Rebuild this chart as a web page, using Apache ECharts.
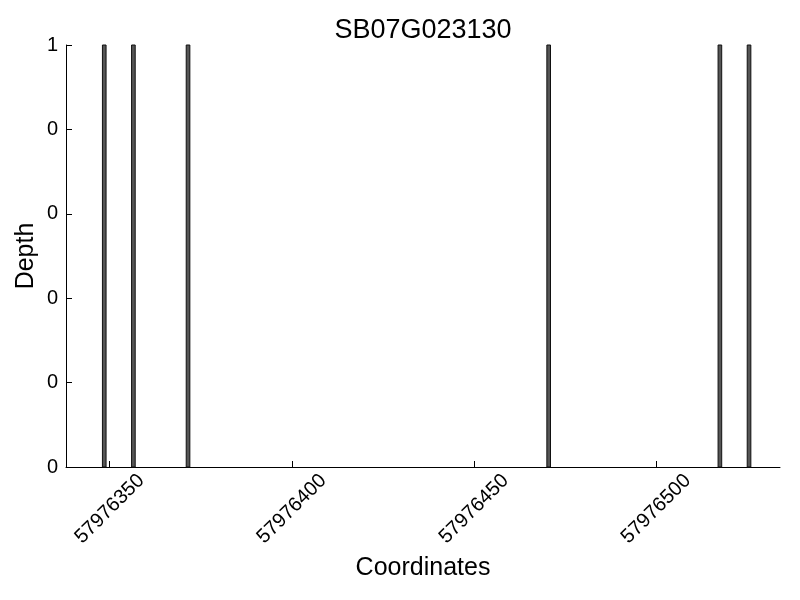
<!DOCTYPE html>
<html>
<head>
<meta charset="utf-8">
<script src="https://cdn.jsdelivr.net/npm/echarts@6/dist/echarts.min.js"></script>
<style>html,body{margin:0;padding:0;background:#fff}#c{width:800px;height:600px}</style>
</head>
<body>
<div id="c"></div>
<script>
const titleText = 'SB07G023130';
const coordinates = [57976348, 57976356, 57976371, 57976470, 57976517, 57976525];
const depth = [1, 1, 1, 1, 1, 1];
const xTicks = [57976350, 57976400, 57976450, 57976500];
const xMin = 57976338, xMax = 57976534;

const data = coordinates.map((c, i) => [c, depth[i]]);
const font = 'Liberation Sans';
const chart = echarts.init(document.getElementById('c'), null, {renderer: 'canvas'});
chart.setOption({
  animation: false,
  backgroundColor: '#fff',
  title: {
    text: titleText, left: 418, top: 12, textAlign: 'center',
    textStyle: {fontFamily: font, fontSize: 27, fontWeight: 'normal', color: '#000'}
  },
  grid: {left: 66, right: 20, top: 45, bottom: 133, containLabel: false},
  xAxis: {
    type: 'value', min: xMin, max: xMax,
    name: 'Coordinates', nameLocation: 'middle', nameGap: 89, nameMoveOverlap: false,
    nameTextStyle: {fontFamily: font, fontSize: 25, color: '#000'},
    axisLine: {show: true, lineStyle: {color: '#000', width: 1}},
    axisTick: {show: true, inside: true, length: 6, lineStyle: {color: '#000'}, customValues: xTicks},
    axisLabel: {
      customValues: xTicks, rotate: 45, margin: 42, align: 'center', verticalAlign: 'middle',
      fontFamily: font, fontSize: 20, color: '#000', formatter: v => String(v)
    },
    splitLine: {show: false}
  },
  yAxis: {
    type: 'value', min: 0, max: 1, interval: 0.2,
    name: 'Depth', nameLocation: 'middle', nameGap: 27, nameMoveOverlap: false,
    nameTextStyle: {fontFamily: font, fontSize: 25, color: '#000'},
    axisLine: {show: true, lineStyle: {color: '#000', width: 1}},
    axisTick: {show: true, inside: true, length: 6, lineStyle: {color: '#000'}},
    axisLabel: {
      margin: 8, fontFamily: font, fontSize: 20, color: '#000',
      formatter: v => String(Math.floor(Math.round(v * 1e6) / 1e6))
    },
    splitLine: {show: false}
  },
  series: [{
    type: 'custom',
    data: data,
    renderItem: function (params, api) {
      const x = api.value(0), y = api.value(1);
      const p0 = api.coord([x, y]);
      const p1 = api.coord([x + 1, 0]);
      return {
        type: 'rect',
        shape: {x: p0[0], y: p0[1], width: p1[0] - p0[0], height: p1[1] - p0[1]},
        style: {fill: '#555555', stroke: '#111111', lineWidth: 1}
      };
    }
  }]
});
</script>
</body>
</html>
